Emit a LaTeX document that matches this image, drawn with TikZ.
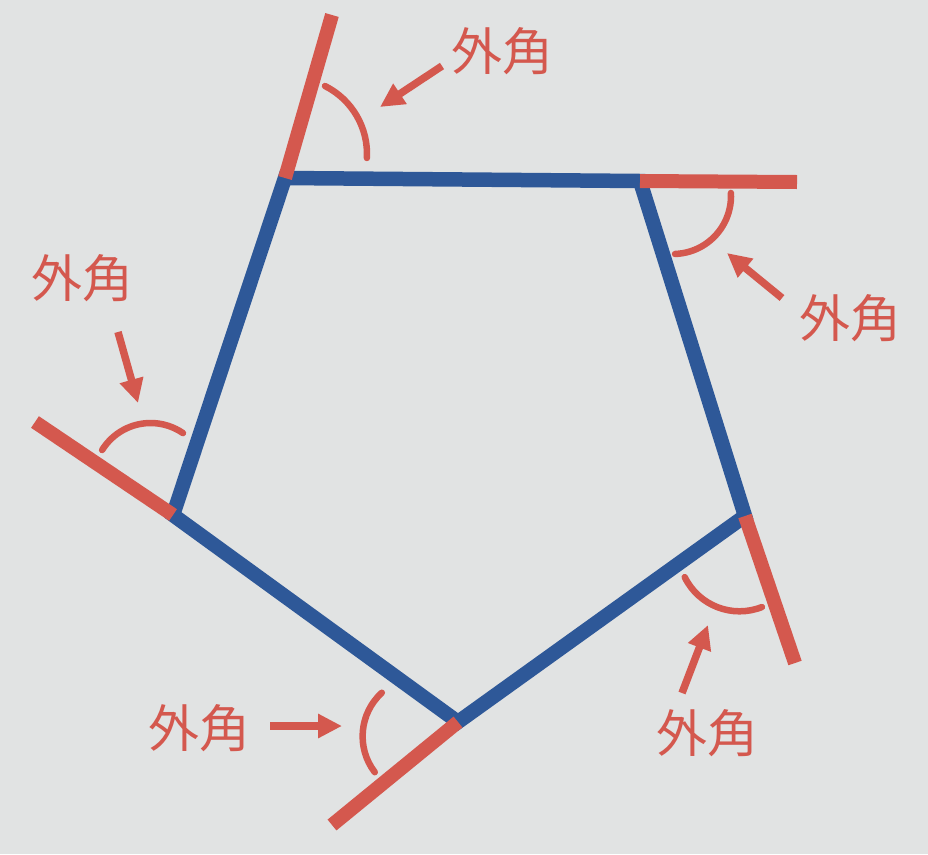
\documentclass[tikz,border=0pt]{standalone}
\usepackage{fontspec}
\newfontfamily\cjk{Noto Sans CJK JP}
\usetikzlibrary{arrows.meta,calc}
\definecolor{bgc}{RGB}{225,227,227}
\definecolor{bluec}{RGB}{46,88,152}
\definecolor{redc}{RGB}{212,88,78}
\tikzset{
  edge/.style={draw=bluec,line width=14.5pt,line join=miter},
  extline/.style={draw=redc,line width=14pt,line cap=butt},
  anglearc/.style={draw=redc,line width=6.5pt,line cap=round},
  pointer/.style={draw=redc,line width=7.5pt,-{Triangle[length=24pt,width=23pt]}},
  lbl/.style={text=redc,font=\cjk\fontsize{51}{51}\selectfont,inner sep=0pt}
}
\begin{document}
\begin{tikzpicture}[x=1pt,y=-1pt]
\fill[bgc] (0,0) rectangle (928,854);
\useasboundingbox (0,0) rectangle (928,854);
% vertices
\coordinate (A) at (285,178);
\coordinate (B) at (640,181);
\coordinate (C) at (745,516);
\coordinate (D) at (458,722);
\coordinate (E) at (173,515);
% extension ends
\coordinate (Ax) at (332,15);
\coordinate (Bx) at (797,182);
\coordinate (Cx) at (795,663);
\coordinate (Dx) at (332,825);
\coordinate (Ex) at (35,422);
% pentagon
\draw[edge] (A) -- (B) -- (C) -- (D) -- (E) -- cycle;
% extensions
\draw[extline] (A) -- (Ax);
\draw[extline] (B) -- (Bx);
\draw[extline] (C) -- (Cx);
\draw[extline] (D) -- (Dx);
\draw[extline] (E) -- (Ex);
% arcs
\draw[anglearc] ($(291,154)+(-63.4:76)$) arc[start angle=-63.4,end angle=3,radius=76];
\draw[anglearc] ($(673,196)+(-3:58)$) arc[start angle=-3,end angle=88,radius=58];
\draw[anglearc] ($(739.5,550.3)+(68.4:61)$) arc[start angle=68.4,end angle=153.9,radius=61];
\draw[anglearc] ($(421.6,736.3)+(142.5:59)$) arc[start angle=142.5,end angle=227.6,radius=59];
\draw[anglearc] ($(150.6,480)+(-148.3:57)$) arc[start angle=-148.3,end angle=-55.4,radius=57];
% labels
\node[lbl] (l1) at (502,51) {外角};
\node[lbl] (l2) at (850,318) {外角};
\node[lbl] (l3) at (82,278) {外角};
\node[lbl] (l4) at (199,728) {外角};
\node[lbl] (l5) at (707,733) {外角};
% arrows
\coordinate (t1) at (442,66); \coordinate (h1) at (380,107);
\coordinate (t2) at (782,298); \coordinate (h2) at (727,253);
\coordinate (t3) at (118,332); \coordinate (h3) at (138,403);
\coordinate (t4) at (270,726); \coordinate (h4) at (342,726);
\coordinate (t5) at (682,693); \coordinate (h5) at (708,625);
\draw[pointer] (t1) -- (h1);
\draw[pointer] (t2) -- (h2);
\draw[pointer] (t3) -- (h3);
\draw[pointer] (t4) -- (h4);
\draw[pointer] (t5) -- (h5);
\end{tikzpicture}
\end{document}
